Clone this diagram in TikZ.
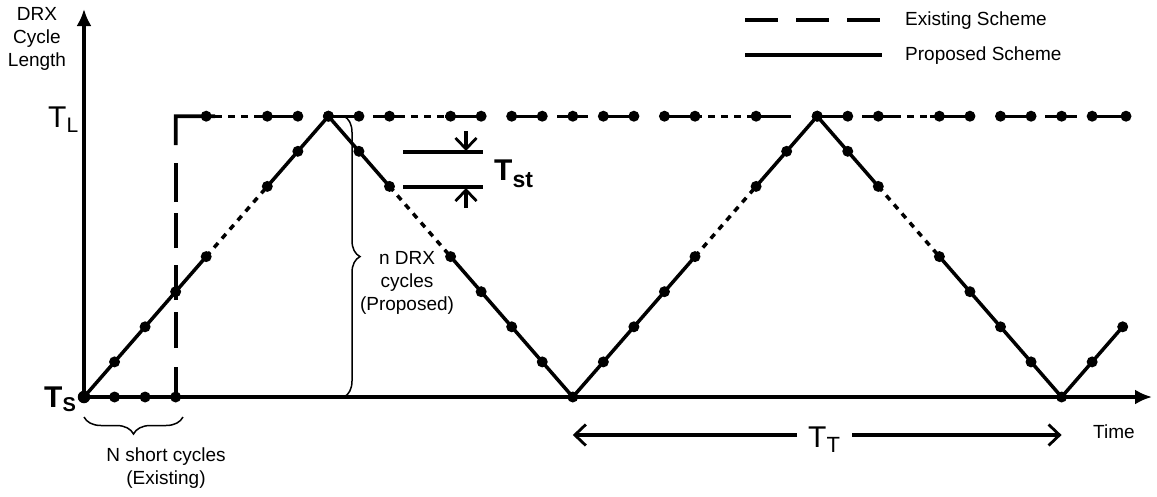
\documentclass[tikz,border=0pt]{standalone}
\usepackage{fontspec}
\setmainfont{Liberation Sans}
\usetikzlibrary{arrows.meta,decorations.pathreplacing}
\newcommand\mysub[3]{\raisebox{-#1}{\fontsize{#2}{#2}\selectfont #3}}
\begin{document}
\begin{tikzpicture}[x=1pt,y=-1pt,
  ax/.style={line width=3.2pt,-{Latex[length=17pt,width=15pt]}},
  prop/.style={line width=3.5pt,line join=round},
  propdot/.style={line width=3.5pt,dash pattern=on 6pt off 6pt},
  exist/.style={line width=3.3pt},
  existdot/.style={line width=3.3pt,dash pattern=on 7pt off 6pt},
  vdash/.style={line width=3.8pt,line join=miter},
  pt/.style={circle,fill=black,inner sep=0pt,minimum size=11pt},
  small/.style={font=\fontsize{19}{23}\selectfont,inner sep=0pt},
  big/.style={font=\fontsize{30}{30}\selectfont,inner sep=0pt,anchor=base west},
  bigb/.style={font=\fontsize{30}{30}\selectfont\bfseries,inner sep=0pt,anchor=base west},
  brc/.style={line width=1.5pt,decorate,decoration={brace,amplitude=15pt}},
  barb/.style={line width=3.2pt,-{Straight Barb[length=11pt,width=21pt,line width=2.8pt]}}
]
\fill[white] (0,0) rectangle (1157,496);
\useasboundingbox (0,0) rectangle (1157,496);
\foreach \k in {0,...,34}{
  \pgfmathsetmacro\h{8-abs(mod(\k,16)-8)}
  \coordinate (p\k) at ({84+30.55*\k},{397-35.1*\h});
  \coordinate (t\k) at ({84+30.55*\k},116.2);
  \coordinate (b\k) at ({84+30.55*\k},397);
}
% axes
\coordinate (xend) at (1152,397);
\coordinate (yend) at (84,9);
\draw[ax] (b0) -- (xend);
\draw[ax] (b0) -- (yend);
% existing scheme: vertical dashed line with corner
\foreach \a/\b in {397/367, 348/312, 300/265, 248/213, 202/163}
  \draw[vdash] (175.65,\a) -- (175.65,\b);
\draw[vdash] (175.65,145) -- (t3) -- (215,116.2);
% existing scheme: top line
\foreach \a/\b in {258/298, 328.4/359, 373/398, 445/481, 511.7/542.25, 557/588, 603.35/633.9, 664.45/695, 747/791, 817.2/847.75, 862/894, 930/970, 1000.5/1031.05, 1045/1077, 1092.15/1126}
  \draw[exist] (\a,116.2) -- (\b,116.2);
\foreach \a/\b in {215/258, 398/445, 695/747, 894/930}
  \draw[existdot] (\a,116.2) -- (\b,116.2);
% proposed scheme
\draw[prop] (p0) -- (p4);
\draw[propdot] (p4) -- (p6);
\draw[prop] (p6) -- (p8) -- (p10);
\draw[propdot] (p10) -- (p12);
\draw[prop] (p12) -- (p16) -- (p20);
\draw[propdot] (p20) -- (p22);
\draw[prop] (p22) -- (p24) -- (p26);
\draw[propdot] (p26) -- (p28);
\draw[prop] (p28) -- (p32) -- (p34);
% dots
\node[pt,minimum size=12.5pt] (dp0) at (p0) {};
\foreach \k in {1,2,3,4,6,7,8,9,10,12,13,14,15,16,17,18,19,20,22,23,24,25,26,28,29,30,31,32,33,34}
  \node[pt] (dp\k) at (p\k) {};
\foreach \k in {4,6,7,8,9,10,12,13,14,15,16,17,18,19,20,22,24,25,26,28,29,30,31,32,33}
  \node[pt] (dt\k) at (t\k) {};
\coordinate (tend) at (1126,116.2);
\node[pt] (dtend) at (tend) {};
\foreach \k in {1,2,3}
  \node[pt] (db\k) at (b\k) {};
% legend
\coordinate (la1) at (745,20); \coordinate (la2) at (880,20);
\draw[line width=3.8pt,dash pattern=on 33pt off 18pt] (la1) -- (la2);
\coordinate (lb1) at (745,55); \coordinate (lb2) at (882,55);
\draw[line width=3.8pt] (lb1) -- (lb2);
\node[small,anchor=base west] (lega) at (905,25) {Existing Scheme};
\node[small,anchor=base west] (legb) at (905,60) {Proposed Scheme};
% axis labels
\node[small,align=center,anchor=north] (ylab) at (37,7) {DRX\\Cycle\\Length};
\node[small,anchor=base west] (time) at (1093,438) {Time};
\node[big] (TL) at (48,127) {T\mysub{5pt}{21}{L}};
\node[bigb] (TS) at (44,407) {T\mysub{4pt}{20}{S}};
% braces
\coordinate (nb1) at (84,417); \coordinate (nb2) at (183,417);
\draw[brc,decoration={brace,mirror,amplitude=17pt}] (nb1) -- (nb2);
\node[small,align=center,anchor=north] (nlab) at (166,448) {N short cycles\\(Existing)};
\coordinate (vb1) at (344,116.2); \coordinate (vb2) at (344,397);
\draw[brc,decoration={brace,amplitude=16pt}] (vb1) -- (vb2);
\node[small,align=center,anchor=north] (plab) at (407,251) {n DRX\\cycles\\(Proposed)};
% T_st
\coordinate (s1a) at (403,152); \coordinate (s1b) at (483,152);
\coordinate (s2a) at (403,187); \coordinate (s2b) at (483,187);
\draw[exist] (s1a) -- (s1b);
\draw[exist] (s2a) -- (s2b);
\coordinate (au0) at (466,131); \coordinate (au1) at (466,151);
\draw[barb] (au0) -- (au1);
\coordinate (ad0) at (466,208); \coordinate (ad1) at (466,188);
\draw[barb] (ad0) -- (ad1);
\node[bigb] (Tst) at (494,180) {T\mysub{7pt}{23}{st}};
% T_T
\node[big] (TT) at (808,447) {T\mysub{5pt}{22}{T}};
\coordinate (ttl0) at (572.8,435); \coordinate (ttl1) at (797,435);
\draw[barb] (ttl1) -- (ttl0);
\coordinate (ttr0) at (852,435); \coordinate (ttr1) at (1061.6,435);
\draw[barb] (ttr0) -- (ttr1);
\end{tikzpicture}
\end{document}
